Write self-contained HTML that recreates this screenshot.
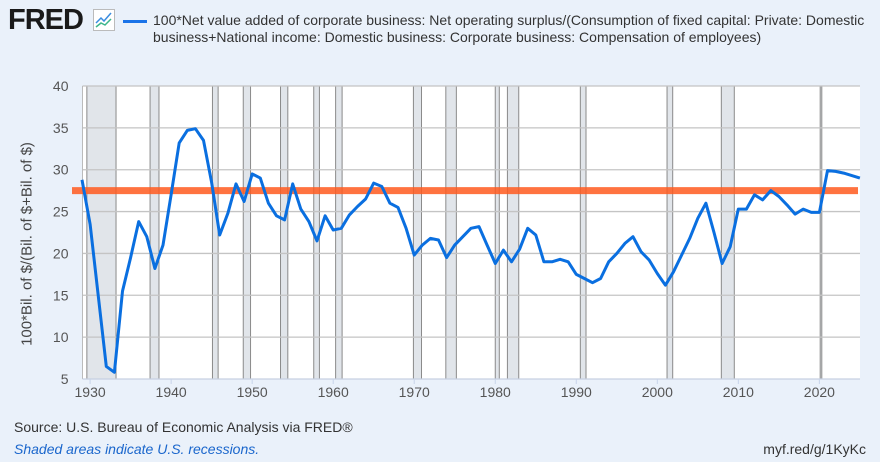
<!DOCTYPE html>
<html><head><meta charset="utf-8">
<style>
body{margin:0;width:880px;height:462px;background:#eaf1fa;font-family:"Liberation Sans",sans-serif;overflow:hidden;position:relative}
.t{position:absolute;white-space:nowrap}
</style></head><body>
<div class="t" style="left:8px;top:4px;font-size:29px;font-weight:bold;color:#1a1a1a;letter-spacing:-1px">FRED</div>
<svg class="t" style="left:93px;top:9px" width="23" height="23"><rect x="0.5" y="0.5" width="21" height="21" fill="#fff" stroke="#bbb"/><polyline points="3,14 8,9 11,12 18,4" fill="none" stroke="#3b8de0" stroke-width="1.5"/><polyline points="3,18 8,14 12,16 18,10" fill="none" stroke="#3cb58a" stroke-width="1.5"/></svg>
<div class="t" style="left:123px;top:20px;width:24px;height:3px;background:#1a73e8"></div>
<div class="t" style="left:153px;top:12px;font-size:14px;line-height:17px;color:#333">100*Net value added of corporate business: Net operating surplus/(Consumption of fixed capital: Private: Domestic<br>business+National income: Domestic business: Corporate business: Compensation of employees)</div>
<svg class="t" style="left:0;top:0" width="880" height="462" id="s"></svg>
<div class="t" style="left:27px;top:244px;font-size:15px;color:#444;transform:translate(-50%,-50%) rotate(-90deg)">100*Bil. of $/(Bil. of $+Bil. of $)</div>
<div class="t" style="left:14px;top:419px;font-size:14px;color:#333">Source: U.S. Bureau of Economic Analysis via FRED®</div>
<div class="t" style="left:14px;top:441px;font-size:14px;color:#1a66cc;font-style:italic">Shaded areas indicate U.S. recessions.</div>
<div class="t" style="right:14px;top:441px;font-size:14px;color:#333">myf.red/g/1KyKc</div>
<script>
var L=82.5,R=860,T=86,B=379;
function X(y){return 90.1+(y-1930)*8.103}
function Y(v){return B-(v-5)*(B-T)/35}
var s='<rect x="'+L+'" y="'+T+'" width="'+(R-L)+'" height="'+(B-T)+'" fill="#fff"/>';
var rec=[[1929.6,1933.2],[1937.4,1938.5],[1945.1,1945.8],[1948.9,1949.8],[1953.5,1954.4],[1957.6,1958.3],[1960.3,1961.1],[1969.9,1970.9],[1973.9,1975.2],[1980,1980.5],[1981.5,1982.9],[1990.5,1991.2],[2001.2,2001.9],[2007.9,2009.5],[2020.1,2020.3]];
rec.forEach(function(r){var a=X(r[0]),b=X(r[1]);s+='<rect x="'+a+'" y="'+T+'" width="'+(b-a)+'" height="'+(B-T)+'" fill="#e1e5ea"/><line x1="'+a+'" x2="'+a+'" y1="'+T+'" y2="'+B+'" stroke="#8a8a8a"/><line x1="'+b+'" x2="'+b+'" y1="'+T+'" y2="'+B+'" stroke="#8a8a8a"/>';});
for(var v=5;v<=40;v+=5){var y=Y(v);s+='<line x1="'+L+'" x2="'+R+'" y1="'+y+'" y2="'+y+'" stroke="#c4c4c4" stroke-width="1.3"/><text x="'+(L-14)+'" y="'+(y+5)+'" text-anchor="end" font-size="14" fill="#555" font-family="Liberation Sans">'+v+'</text>';}
s+='<line x1="'+L+'" x2="'+L+'" y1="'+T+'" y2="'+B+'" stroke="#bbb"/>';
s+='<line x1="'+L+'" x2="'+R+'" y1="'+B+'" y2="'+B+'" stroke="#c8d4ea"/>';
for(var yr=1930;yr<=2020;yr+=10){var x=X(yr);s+='<line x1="'+x+'" x2="'+x+'" y1="'+B+'" y2="'+(B+5)+'" stroke="#c8d4ea"/><text x="'+x+'" y="'+(B+18)+'" text-anchor="middle" font-size="14" fill="#555" font-family="Liberation Sans">'+yr+'</text>';}
s+='<line x1="72" x2="858" y1="'+Y(27.5)+'" y2="'+Y(27.5)+'" stroke="#ff5a1f" stroke-opacity="0.85" stroke-width="7"/>';
var d=[28.8,23.5,15,6.5,5.8,15.5,19.5,23.8,22,18.2,21,27,33.2,34.7,34.9,33.5,28.5,22.2,24.8,28.3,26.2,29.5,29,26,24.5,24,28.3,25.3,23.8,21.5,24.5,22.8,23,24.6,25.6,26.5,28.4,28,26,25.5,23,19.8,21,21.8,21.6,19.5,21,22,23,23.2,21,18.8,20.4,19,20.5,23,22.2,19,19,19.3,19,17.5,17,16.5,17,19,20,21.2,22,20.2,19.2,17.6,16.2,17.8,19.8,21.8,24.2,26,22.5,18.8,20.8,25.3,25.3,27,26.4,27.5,26.8,25.8,24.7,25.3,24.9,24.9,29.9,29.8,29.6,29.3,29.0];
var p=d.map(function(v,i){var x=Math.min(X(1929+i),R);return x.toFixed(1)+','+Y(v).toFixed(1)}).join(' ');
s+='<polyline points="'+p+'" fill="none" stroke="#0a6fe0" stroke-width="3" stroke-linejoin="round"/>';
document.getElementById('s').innerHTML=s;
</script>
</body></html>
